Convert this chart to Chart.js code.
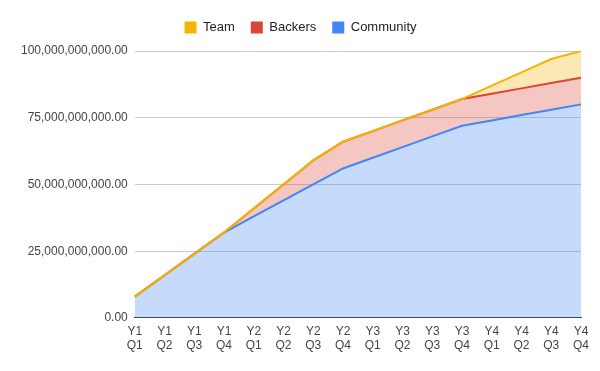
<!DOCTYPE html>
<html>
<head>
<meta charset="utf-8">
<script src="https://cdn.jsdelivr.net/npm/chart.js@4"></script>
<style>
  body { margin: 0; background: #fff; }
</style>
</head>
<body>
<canvas id="myChart" width="600" height="371"></canvas>
<script>
var quarters = ['Y1 Q1','Y1 Q2','Y1 Q3','Y1 Q4','Y2 Q1','Y2 Q2','Y2 Q3','Y2 Q4',
                'Y3 Q1','Y3 Q2','Y3 Q3','Y3 Q4','Y4 Q1','Y4 Q2','Y4 Q3','Y4 Q4']

// values in billions
var community = [8, 16, 24, 32, 38, 44, 50, 56, 60, 64, 68, 72, 74, 76, 78, 80]
var backers   = [0, 0, 0, 0, 3, 6, 9, 10, 10, 10, 10, 10, 10, 10, 10, 10]
var team      = [0, 0, 0, 0, 0, 0, 0, 0, 0, 0, 0, 0, 3, 6, 9, 10]

var yTicks = [0, 25, 50, 75, 100]

// stacked totals, drawn as plain lines so the Team line sits on top
var commTop = [], backTop = [], teamTop = []
for (var i = 0; i < quarters.length; i++) {
	commTop.push(community[i] * 1e9)
	backTop.push((community[i] + backers[i]) * 1e9)
	teamTop.push((community[i] + backers[i] + team[i]) * 1e9)
}

Chart.defaults.font.family = "'Liberation Sans', Arial, sans-serif"

// extra room under the legend, and nudge it to the page centre
var legendGap = {
	id: 'legendGap',
	beforeInit: function(chart) {
		var fit = chart.legend.fit
		chart.legend.fit = function() {
			fit.bind(chart.legend)()
			this.height += 7
		}
	},
	afterLayout: function(chart) {
		chart.legend.left += 3
		chart.legend.right += 3
	}
}

var ctx = document.getElementById("myChart").getContext('2d')

var chart = new Chart(ctx, {
	type: 'line',
	data: {
		labels: quarters,
		datasets: [
			{
				label: "Team",
				data: teamTop,
				borderColor: "#f4b400",
				backgroundColor: "rgba(244,180,0,0.3)",
				fill: 1
			},
			{
				label: "Backers",
				data: backTop,
				borderColor: "#db4437",
				backgroundColor: "rgba(219,68,55,0.3)",
				fill: 2
			},
			{
				label: "Community",
				data: commTop,
				borderColor: "#4285f4",
				backgroundColor: "rgba(66,133,244,0.3)",
				fill: 'origin'
			}
		]
	},
	options: {
		responsive: false,
		animation: false,
		layout: { padding: { left: 14, right: 19, top: 5, bottom: 11 } },
		elements: {
			point: { radius: 0 },
			line: { borderWidth: 2, tension: 0 }
		},
		plugins: {
			filler: { drawTime: 'beforeDatasetsDraw' },
			tooltip: { enabled: false },
			legend: {
				position: 'top',
				labels: {
					color: '#222',
					font: { size: 13 },
					boxWidth: 12,
					boxHeight: 12,
					padding: 16,
					generateLabels: function(chart) {
						return chart.data.datasets.map(function(ds, i) {
							return {
								text: ds.label,
								fillStyle: ds.borderColor,
								strokeStyle: ds.borderColor,
								lineWidth: 0,
								datasetIndex: i,
								fontColor: '#222'
							}
						})
					}
				}
			}
		},
		scales: {
			x: {
				grid: { display: false, drawTicks: false },
				border: { color: '#333', width: 1 },
				ticks: {
					color: '#444',
					font: { size: 12, lineHeight: 1.17 },
					maxRotation: 0,
					autoSkip: false,
					padding: 7,
					callback: function(v, i) { return quarters[i].split(' ') }
				}
			},
			y: {
				min: 0,
				max: yTicks[yTicks.length - 1] * 1e9,
				afterBuildTicks: function(axis) {
					axis.ticks = yTicks.map(function(t) { return { value: t * 1e9 } })
				},
				grid: { color: '#ccc', drawTicks: false },
				border: { display: false },
				ticks: {
					color: '#444',
					font: { size: 12 },
					padding: 7,
					callback: function(v) {
						return v.toLocaleString('en-US', { minimumFractionDigits: 2, maximumFractionDigits: 2 })
					}
				}
			}
		}
	},
	plugins: [legendGap]
})
</script>
</body>
</html>
